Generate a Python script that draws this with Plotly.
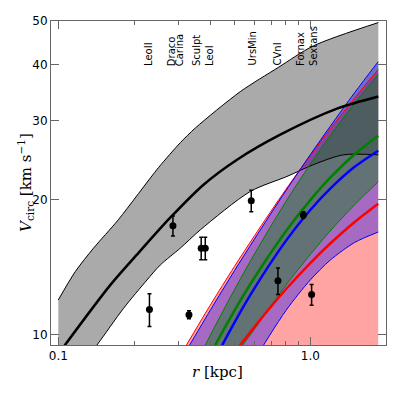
import numpy as np
import plotly.graph_objects as go

# banda cinza (modelo de referencia)
r_sup = [0.1, 0.1168, 0.138, 0.173, 0.2496, 0.305, 0.350, 0.527, 0.746, 1.028, 1.862]
v_sup = [11.97, 13.84, 15.61, 18.05, 23.57, 26.8, 28.9, 34.8, 39.4, 44.0, 49.6]
r_inf = [0.1, 0.1424, 0.1816, 0.2249, 0.254, 0.305, 0.366, 0.578, 0.808, 1.028, 1.352, 1.862]
v_inf = [7.3, 9.5, 11.47, 13.26, 14.32, 15.61, 17.14, 20.87, 22.54, 23.94, 25.18, 25.18]
r_med = [0.1, 0.161, 0.2115, 0.278, 0.376, 0.512, 0.760, 1.276, 1.862]
v_med = [9.07, 12.93, 15.39, 18.24, 21.58, 24.56, 27.92, 31.9, 33.95]

# bandas coloridas
r_mod = [0.3, 0.4, 0.5, 0.6, 0.8, 1.0, 1.2, 1.5, 1.86]
verm_sup = [8.87, 11.63, 14.21, 16.62, 21.09, 25.09, 28.76, 33.69, 39.0]
verm_med = [6.0, 7.66, 9.13, 10.42, 12.64, 14.46, 15.98, 17.85, 19.6]
verm_inf = [4.0, 4.5, 5.0, 5.5, 6.0, 6.5, 7.0, 7.5, 8.0]
azul_sup = [8.62, 11.33, 13.9, 16.35, 20.95, 25.2, 29.15, 34.64, 40.6]
azul_med = [5.94, 8.4, 10.66, 12.7, 16.2, 18.98, 21.18, 23.68, 25.72]
azul_inf = [4.2, 5.53, 7.24, 8.78, 11.33, 13.26, 14.68, 16.07, 16.95]
verde_sup = [7.19, 9.96, 12.61, 15.14, 19.82, 24.01, 27.78, 32.79, 37.99]
verde_med = [6.52, 9.03, 11.33, 13.41, 17.02, 19.96, 22.39, 25.25, 27.76]
verde_inf = [5.8, 7.45, 8.95, 10.3, 12.9, 15.1, 17.05, 19.5, 21.93]

# galaxias anas
nomes = ["LeoII", "Draco", "Carina", "Sculpt<br>LeoI", "UrsMin", "CVnI", "Fornax<br>Sextans"]
r_nomes = [0.229, 0.283, 0.305, 0.377, 0.590, 0.738, 0.970]
r_obs = [0.230, 0.285, 0.330, 0.369, 0.383, 0.583, 0.744, 0.938, 1.012]
v_obs = [11.4, 17.5, 11.1, 15.6, 15.6, 19.9, 13.2, 18.5, 12.3]
v_err = [0.95, 0.9, 0.23, 0.9, 0.9, 1.1, 0.9, 0.3, 0.65]

SUAVE = dict(shape='spline', smoothing=0.8)


def banda(fig, r_a, sup, r_b, inf, cor):
    # contorno inferior invisivel + superior preenchido ate ele
    fig.add_trace(go.Scatter(x=r_b, y=inf, mode='lines', line=dict(width=0, **SUAVE),
                             hoverinfo='skip', showlegend=False))
    fig.add_trace(go.Scatter(x=r_a, y=sup, mode='lines', line=dict(width=0, **SUAVE),
                             fill='tonexty', fillcolor=cor,
                             hoverinfo='skip', showlegend=False))


def linha(fig, r, v, cor, larg):
    fig.add_trace(go.Scatter(x=r, y=v, mode='lines',
                             line=dict(color=cor, width=larg, **SUAVE),
                             hoverinfo='skip', showlegend=False))


fig = go.Figure()

# preenchimentos
banda(fig, r_sup, v_sup, r_inf, v_inf, 'rgb(170,170,170)')
banda(fig, r_mod, verm_sup, r_mod, verm_inf, 'rgba(255,0,0,0.36)')
banda(fig, r_mod, azul_sup, r_mod, azul_inf, 'rgba(0,0,255,0.35)')
banda(fig, r_mod, verde_sup, r_mod, verde_inf, 'rgba(0,128,0,0.4)')

# contornos finos
linha(fig, r_sup, v_sup, 'black', 1)
linha(fig, r_inf, v_inf, 'black', 1)
linha(fig, r_mod, verm_sup, 'red', 1)
linha(fig, r_mod, azul_sup, 'blue', 1)
linha(fig, r_mod, azul_inf, 'blue', 1)
linha(fig, r_mod, verde_sup, 'green', 1)
linha(fig, r_mod, verde_inf, 'green', 1)

# linhas centrais
linha(fig, r_mod, verm_med, 'red', 2.5)
linha(fig, r_mod, azul_med, 'blue', 2.5)
linha(fig, r_mod, verde_med, 'green', 2.5)
linha(fig, r_med, v_med, 'black', 2.5)

# pontos observados
fig.add_trace(go.Scatter(x=r_obs, y=v_obs, mode='markers',
                         marker=dict(color='black', size=7),
                         error_y=dict(type='data', array=v_err, color='black',
                                      thickness=1.5, width=2),
                         showlegend=False))

for nome, r in zip(nomes, r_nomes):
    fig.add_annotation(x=np.log10(r), y=np.log10(39.3), text=nome, textangle=-90,
                       showarrow=False, xanchor='center', yanchor='bottom', align='left',
                       font=dict(family='DejaVu Sans', size=10, color='black'))

# titulos dos eixos
fig.add_annotation(xref='paper', yref='paper', x=-0.078, y=0.503, textangle=-90,
                   text='<i>V</i><sub>circ</sub> [km s<sup>\u22121</sup>]', showarrow=False,
                   xanchor='center', yanchor='middle',
                   font=dict(family='DejaVu Serif', size=15, color='black'))
fig.add_annotation(xref='paper', yref='paper', x=0.4985, y=-0.082,
                   text='<i>r</i> [kpc]', showarrow=False,
                   xanchor='center', yanchor='middle',
                   font=dict(family='DejaVu Serif', size=15, color='black'))

eixo = dict(showline=True, linecolor='#666', linewidth=1, mirror='ticks', ticks='inside',
            tickcolor='#666', showgrid=False, zeroline=False, automargin=False,
            tickfont=dict(family='DejaVu Sans', size=12, color='black'))

fig.update_xaxes(type='log', range=[-1.029, 0.3004], tickvals=[0.1, 1.0],
                 ticktext=['0.1', '1.0'], ticklen=8,
                 minor=dict(tickvals=[0.2, 0.3, 0.4, 0.5, 0.6, 0.7, 0.8, 0.9, 2.0],
                            ticklen=4, ticks='inside', tickcolor='#666'),
                 **eixo)
fig.update_yaxes(type='log', range=[np.log10(9.5), np.log10(50)],
                 tickvals=[10, 20, 30, 40, 50], ticktext=['10', '20', '30', '40', '50'],
                 ticklen=8, **eixo)

# a pagina tem 8 px de margem no body
fig.update_layout(width=387, height=387, margin=dict(l=43, r=9, t=13, b=50),
                  plot_bgcolor='white', paper_bgcolor='white', showlegend=False)

fig.write_html("out.html")
